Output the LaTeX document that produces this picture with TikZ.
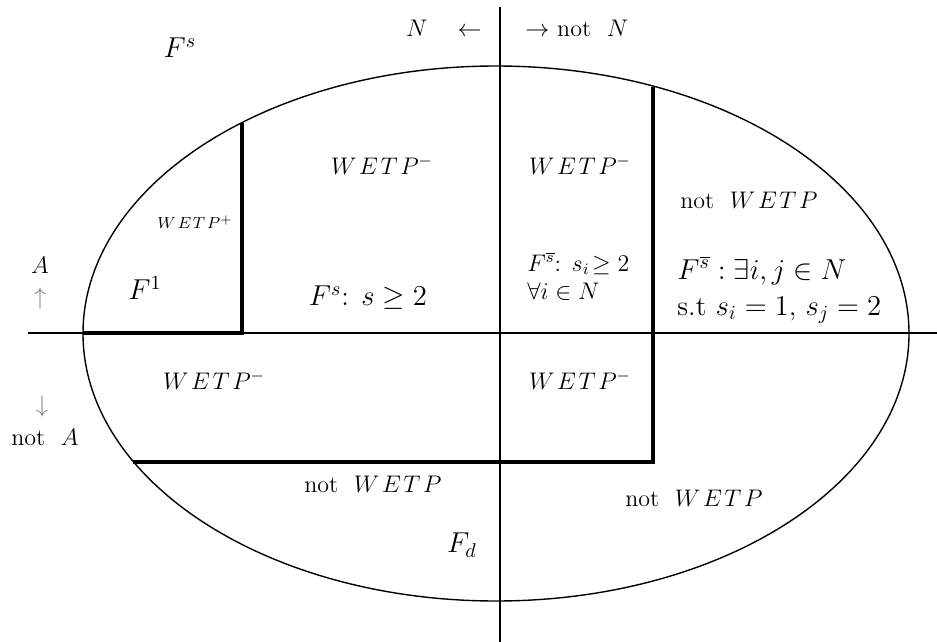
\documentclass[tikz,border=0pt]{standalone}
\usepackage{amsmath,amssymb}
\usetikzlibrary{calc}
\newcommand{\wetp}{W\mkern2mu E\mkern2mu T\mkern2mu P}

\begin{document}
\begin{tikzpicture}[
    x=0.5pt, y=-0.5pt,
    axis/.style={line width=0.7pt},
    rim/.style={line width=0.7pt},
    cut/.style={line width=2.2pt},
    lbl/.style={font=\fontsize{12pt}{14pt}\selectfont, inner sep=1pt},
    big/.style={font=\fontsize{14pt}{16pt}\selectfont, inner sep=1pt},
    tiny/.style={font=\fontsize{8pt}{9pt}\selectfont, inner sep=1pt}
]
    \useasboundingbox (0,0) rectangle (937,642);
    \fill[white] (0,0) rectangle (937,642);

    % ellipse and axes
    \coordinate (o) at (496,333.5);
    \draw[rim] (o) ellipse [x radius=206.5pt, y radius=133.75pt];
    \coordinate (hl) at (28,333);
    \coordinate (hr) at (937,333);
    \coordinate (vt) at (500,7);
    \coordinate (vb) at (500,642);
    \draw[axis] (hl) -- (hr);
    \draw[axis] (vt) -- (vb);

    % thick borders
    \coordinate (a1) at (83,333);
    \coordinate (a2) at (242,333);
    \coordinate (a3) at (242,123);
    \coordinate (b1) at (653,87);
    \coordinate (b2) at (653,462);
    \coordinate (b3) at (133,462);
    \draw[cut] (a1) -- (a2) -- (a3);
    \draw[cut] (b1) -- (b2) -- (b3);

    % side labels
    \node[big] (fs) at (180,48) {$F^s$};
    \node[lbl, anchor=east] (nl) at (484,28) {$N\ \ \ \leftarrow$};
    \node[lbl, anchor=west] (nr) at (523,28) {$\rightarrow$ not\ \ $N$};
    \node[lbl, inner sep=0pt] (aa) at (40,265) {$A$};
    \node[lbl, inner sep=0pt, text=gray] (au) at (40,298) {$\uparrow$};
    \node[lbl, inner sep=0pt, text=gray] (ad) at (42,406) {$\downarrow$};
    \node[lbl] (na) at (45,437) {not\ \ $A$};

    % upper left
    \node[tiny] (wp) at (195,222) {$\wetp^{+}$};
    \node[big] (f1) at (145,288) {$F^1$};
    \node[lbl] (w1) at (382,165) {$\wetp^{-}$};
    \node[big] (fs2) at (368,298) {$F^s$: $s\geq 2$};

    % upper right
    \node[lbl] (w2) at (580,165) {$\wetp^{-}$};
    \node[lbl, anchor=west, align=left] (fb1) at (525,276) {$F^{\overline{s}}$: $s_i\!\geq 2$\\[0pt]$\forall i\in N$};
    \node[lbl] (nw1) at (749,200) {not\ \ $\wetp$};
    \node[big, anchor=west, align=left] (fb2) at (675,290) {$F^{\overline{s}}: \exists i,j\in N$\\[2pt]s.t $s_i=1$, $s_j=2$};

    % lower half
    \node[lbl] (w3) at (214,380) {$\wetp^{-}$};
    \node[lbl] (w4) at (580,380) {$\wetp^{-}$};
    \node[lbl] (nw2) at (373,484) {not\ \ $\wetp$};
    \node[lbl] (nw3) at (694,498) {not\ \ $\wetp$};
    \node[big] (fd) at (462,545) {$F_d$};
\end{tikzpicture}
\end{document}
